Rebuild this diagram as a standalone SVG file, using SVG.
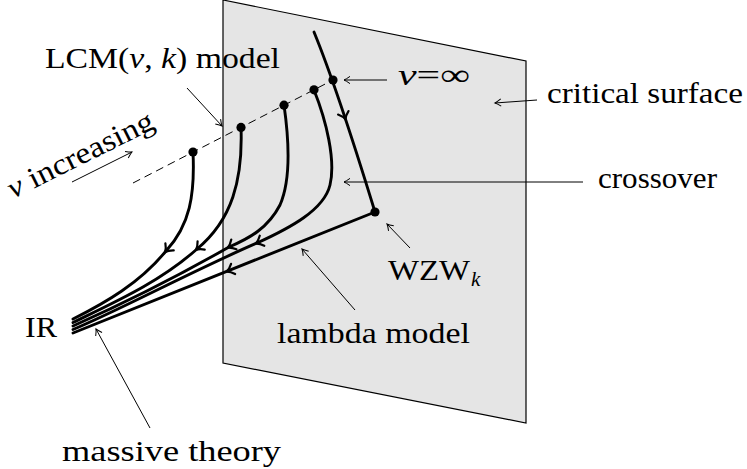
<svg xmlns="http://www.w3.org/2000/svg" xmlns:xlink="http://www.w3.org/1999/xlink" width="747" height="469" viewBox="0 0 747 469">
<style>
.lbl{font-family:"Liberation Serif","Times New Roman",serif;font-size:30px;fill:#000}
.it{font-style:italic}
.thick{fill:none;stroke:#000;stroke-width:2.9;stroke-linecap:round}
.thin{fill:none;stroke:#000;stroke-width:1}
.dot{fill:#000}
</style>
<defs>
<marker id="ta" markerUnits="userSpaceOnUse" markerWidth="12" markerHeight="12" viewBox="-8 -6 12 12" refX="0" refY="0" orient="auto" overflow="visible">
<path d="M-6,-3.6 Q-2,-0.8 0,0 Q-2,0.8 -6,3.6" fill="none" stroke="#000" stroke-width="1"/>
</marker>
<path id="ah" d="M-5.5,-5.5 Q-2,-1.2 1.5,0 Q-2,1.2 -5.5,5.5" fill="none" stroke="#000" stroke-width="2.2" stroke-linecap="round"/>
</defs>

<g id="plane">
<polygon points="223,0 526,61 526,423 223,363" fill="#e5e5e5" stroke="#000" stroke-width="1.2"/>
</g>

<g id="connectors">
<line x1="133" y1="183" x2="333" y2="80" stroke="#000" stroke-width="1" stroke-dasharray="8,5"/>
<path class="thick" d="M314,32 Q337,88 375,212"/>
<path class="thick" d="M193,152 C195,195 190,225 166,251 C140,283 105,303 73,319"/>
<path class="thick" d="M241,127 C243,180 232,220 197,249 C160,282 115,302 73,322.5"/>
<path class="thick" d="M284,105 C289,140 291,180 280,205 C268,228 250,238 229,247 C180,275 120,305 73,326"/>
<path class="thick" d="M314,90 C326,120 336,160 330,185 C324,210 290,228 257,243 C190,272 120,310 73,329.5"/>
<path class="thick" d="M375,212 L73,333"/>
<use xlink:href="#ah" transform="translate(345,118) rotate(71.6)"/>
<use xlink:href="#ah" transform="translate(166,251) rotate(130.4)"/>
<use xlink:href="#ah" transform="translate(197,249) rotate(139.4)"/>
<use xlink:href="#ah" transform="translate(229,247) rotate(152.2)"/>
<use xlink:href="#ah" transform="translate(257,243) rotate(155.6)"/>
<use xlink:href="#ah" transform="translate(228,271) rotate(158.2)"/>
<line class="thin" x1="187" y1="88" x2="222" y2="126" marker-end="url(#ta)"/>
<line class="thin" x1="72" y1="182" x2="132" y2="152" marker-end="url(#ta)"/>
<line class="thin" x1="387" y1="80" x2="344" y2="80" marker-end="url(#ta)"/>
<line class="thin" x1="537" y1="100" x2="495" y2="103" marker-end="url(#ta)"/>
<line class="thin" x1="583" y1="182" x2="344" y2="182" marker-end="url(#ta)"/>
<line class="thin" x1="410" y1="248" x2="387" y2="224" marker-end="url(#ta)"/>
<line class="thin" x1="355" y1="310" x2="302" y2="249" marker-end="url(#ta)"/>
<line class="thin" x1="150" y1="428" x2="96" y2="329" marker-end="url(#ta)"/>
</g>

<g id="points">
<circle class="dot" cx="193" cy="152" r="4.6"/>
<circle class="dot" cx="241" cy="127.4" r="4.6"/>
<circle class="dot" cx="284" cy="105.2" r="4.6"/>
<circle class="dot" cx="314" cy="89.8" r="4.6"/>
<circle class="dot" cx="333" cy="80" r="4.6"/>
<circle class="dot" cx="375" cy="212" r="4.6"/>
</g>

<g id="label-lcm"><text class="lbl" x="45" y="68" textLength="235" lengthAdjust="spacingAndGlyphs">LCM(<tspan class="it">ν</tspan>, <tspan class="it">k</tspan>) model</text></g>
<g id="label-nu-increasing"><text class="lbl" transform="translate(13,199) rotate(-26.5)" textLength="160" lengthAdjust="spacingAndGlyphs"><tspan class="it">ν</tspan> increasing</text></g>
<g id="label-nu-inf"><text class="lbl" x="398" y="85" textLength="72" lengthAdjust="spacingAndGlyphs"><tspan class="it">ν</tspan>=∞</text></g>
<g id="label-critical"><text class="lbl" x="547" y="103" textLength="196" lengthAdjust="spacingAndGlyphs">critical surface</text></g>
<g id="label-crossover"><text class="lbl" x="598" y="188" textLength="119" lengthAdjust="spacingAndGlyphs">crossover</text></g>
<g id="label-wzw"><text class="lbl" x="388" y="280" textLength="82" lengthAdjust="spacingAndGlyphs">WZW</text><text class="lbl it" x="471" y="286" style="font-size:21px">k</text></g>
<g id="label-lambda"><text class="lbl" x="277" y="343" textLength="193" lengthAdjust="spacingAndGlyphs">lambda model</text></g>
<g id="label-ir"><text class="lbl" x="25" y="337" textLength="32" lengthAdjust="spacingAndGlyphs">IR</text></g>
<g id="label-massive"><text class="lbl" x="62" y="461" textLength="219" lengthAdjust="spacingAndGlyphs">massive theory</text></g>
</svg>
